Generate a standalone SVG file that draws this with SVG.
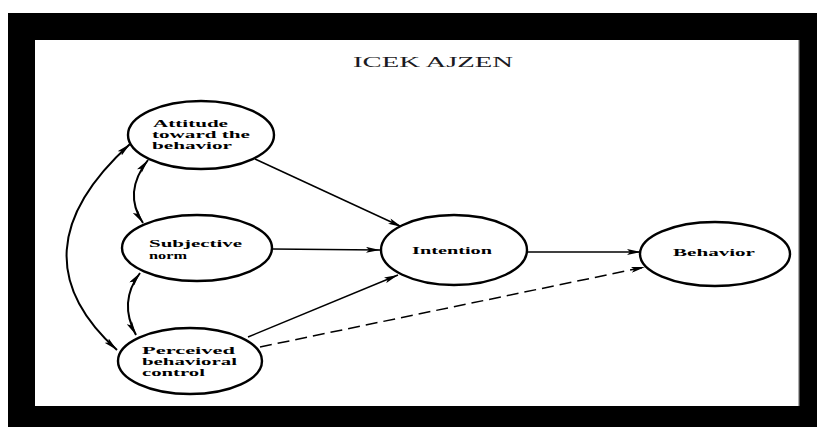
<svg xmlns="http://www.w3.org/2000/svg" width="817" height="427" viewBox="0 0 817 427">
  <style>
    .node ellipse { fill: #fff; stroke: #000; stroke-width: 2.4; }
    .label { font-family: "Liberation Serif", "DejaVu Serif", serif; font-weight: bold; font-size: 10.5px; fill: #000; }
    .title { font-family: "Liberation Serif", "Times New Roman", serif; font-size: 14px; fill: #1a1a22; }
    .edge { fill: none; stroke: #000; stroke-width: 1.5; }
    .curve { fill: none; stroke: #000; stroke-width: 2; }
    .dash { stroke-dasharray: 12 6; }
  </style>
  <defs>
    <marker id="arrow" viewBox="0 0 14 6" refX="14" refY="3" markerWidth="14" markerHeight="6" markerUnits="userSpaceOnUse" orient="auto-start-reverse">
      <path d="M0,0 L14,3 L0,6 L3,3 Z" fill="#000"/>
    </marker>
  </defs>

  <!-- page frame -->
  <rect x="0" y="0" width="817" height="427" fill="#fff"/>
  <rect x="8" y="13" width="809" height="414" fill="#000"/>
  <rect x="35" y="40" width="764" height="366" fill="#fff"/>
  <line x1="799" y1="40" x2="799" y2="406" stroke="#777" stroke-width="1.2"/>

  <text class="title" x="353" y="67" textLength="160" lengthAdjust="spacingAndGlyphs">ICEK AJZEN</text>

  <!-- connectors -->
  <g id="connectors">
    <line class="edge" x1="255" y1="159" x2="402" y2="227" marker-end="url(#arrow)"/>
    <line class="edge" x1="272" y1="249" x2="380" y2="250" marker-end="url(#arrow)"/>
    <line class="edge" x1="248" y1="337" x2="398" y2="275" marker-end="url(#arrow)"/>
    <line class="edge" x1="527" y1="252" x2="641" y2="252" marker-end="url(#arrow)"/>
    <line class="edge dash" x1="260" y1="347" x2="645" y2="267" marker-end="url(#arrow)"/>
    <path class="curve" d="M148,160 Q122.5,192.5 143,223" marker-start="url(#arrow)" marker-end="url(#arrow)"/>
    <path class="curve" d="M140,273 Q118,302 136,335" marker-start="url(#arrow)" marker-end="url(#arrow)"/>
    <path class="curve" d="M130,144 Q10,253 117,350" marker-start="url(#arrow)" marker-end="url(#arrow)"/>
  </g>

  <!-- nodes -->
  <g id="attitude" class="node">
    <ellipse cx="201" cy="135" rx="73" ry="34"/>
    <text class="label" x="153" y="127" textLength="75" lengthAdjust="spacingAndGlyphs">Attitude</text>
    <text class="label" x="152" y="138" textLength="98" lengthAdjust="spacingAndGlyphs">toward the</text>
    <text class="label" x="152" y="149" textLength="80" lengthAdjust="spacingAndGlyphs">behavior</text>
  </g>
  <g id="subjective-norm" class="node">
    <ellipse cx="197" cy="248" rx="75" ry="33"/>
    <text class="label" x="149" y="247" textLength="93" lengthAdjust="spacingAndGlyphs">Subjective</text>
    <text class="label" x="149" y="259" textLength="38" lengthAdjust="spacingAndGlyphs">norm</text>
  </g>
  <g id="perceived-control" class="node">
    <ellipse cx="190" cy="361" rx="72" ry="33"/>
    <text class="label" x="142" y="354" textLength="93" lengthAdjust="spacingAndGlyphs">Perceived</text>
    <text class="label" x="142" y="365" textLength="95" lengthAdjust="spacingAndGlyphs">behavioral</text>
    <text class="label" x="142" y="376" textLength="63" lengthAdjust="spacingAndGlyphs">control</text>
  </g>
  <g id="intention" class="node">
    <ellipse cx="454" cy="250" rx="73" ry="35"/>
    <text class="label" x="412" y="254" textLength="80" lengthAdjust="spacingAndGlyphs">Intention</text>
  </g>
  <g id="behavior" class="node">
    <ellipse cx="715" cy="254" rx="75" ry="32"/>
    <text class="label" x="673" y="256" textLength="82" lengthAdjust="spacingAndGlyphs">Behavior</text>
  </g>
</svg>
